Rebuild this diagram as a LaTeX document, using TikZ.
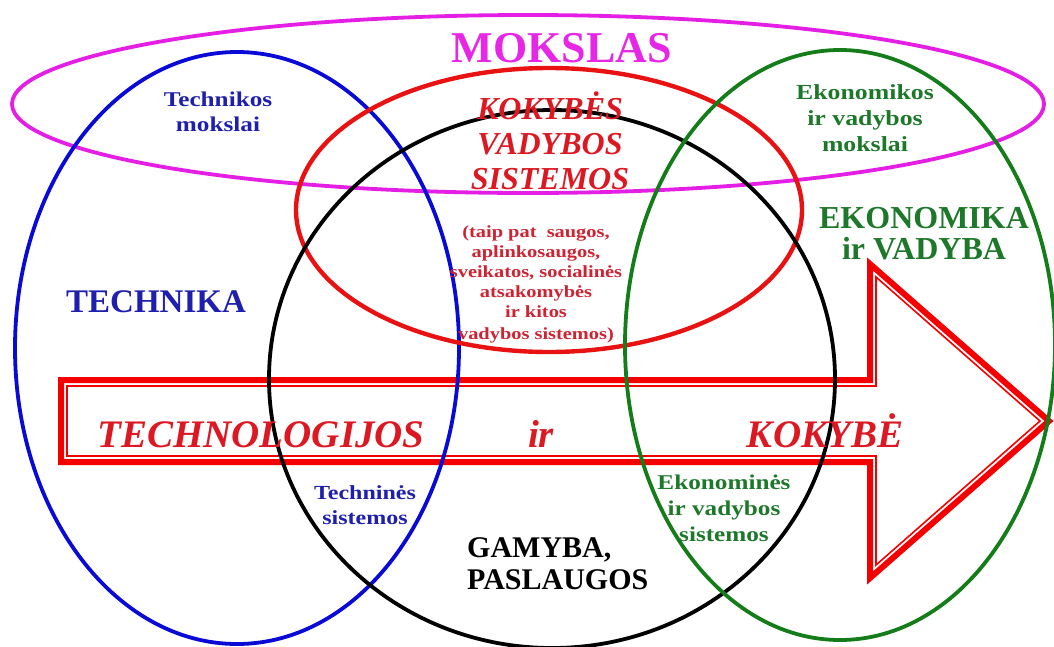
\documentclass[tikz,border=0pt]{standalone}
\usepackage{fontspec}
\setmainfont{Liberation Serif}
\newfontfamily\wideserif{Liberation Serif}[FakeStretch=1.2]

\definecolor{ringmag}{RGB}{228,30,228}
\definecolor{ringblue}{RGB}{10,10,215}
\definecolor{ringred}{RGB}{232,18,18}
\definecolor{ringgreen}{RGB}{20,125,25}
\definecolor{arrred}{RGB}{245,0,0}
\definecolor{txtmag}{RGB}{230,40,230}
\definecolor{txtblue}{RGB}{30,30,175}
\definecolor{txtgreen}{RGB}{30,120,42}
\definecolor{txtred}{RGB}{220,25,35}
\definecolor{txtsmallred}{RGB}{205,35,50}

\tikzset{
  ring/.style={draw=#1, line width=3.8pt},
  lbl/.style={inner sep=0pt, align=center},
  bigit/.style={lbl, txtred, anchor=base, font=\fontsize{39}{42}\selectfont\bfseries\itshape},
}

\begin{document}
\begin{tikzpicture}[x=1pt,y=-1pt]
\useasboundingbox (0,0) rectangle (1054,646);

%%%%%%%%%%%%%%%%%%%%%%%%%%%%%%%%%%%%%%%%%%%%%%%%%%%%%%%%%%%%%%%%%
%%%%%%%%%%%%%%%%%%%%%%%%%%%%%%
\draw [arrred, line width=6pt, miter limit=20] (61,380) -- (870,380) -- (870,264) -- (1049,421) -- (870,578) -- (870,462) -- (61,462) -- cycle;
\draw [arrred, line width=1.6pt] (67,386) -- (876,386) -- (876,277) -- (1040,421) -- (876,565) -- (876,456) -- (67,456) -- cycle;


\draw [ring=ringmag] (528,104) ellipse [x radius=516pt, y radius=89pt];
\draw [ring=ringblue] (237,348) ellipse [x radius=222pt, y radius=296pt];
\draw [ring=ringred, line width=4.4pt] (549,210) ellipse [x radius=253pt, y radius=142pt];
\draw [ring=black] (552,379) ellipse [x radius=283pt, y radius=269pt];
\draw [ring=ringgreen] (840,345) ellipse [x radius=215pt, y radius=295pt];


%%%%%%%%%%%%%%%%%%%%%%%%%%%%%%%%%%%%%%%%%%%%%%%%%%%%%%%%%%%%%%%%%
\node [lbl, txtmag, font=\fontsize{44}{48}\selectfont\bfseries] (mokslas) at (562,48) {MOKSLAS};

\node [lbl, txtred, font=\fontsize{32}{35}\selectfont\bfseries\itshape] (kvs) at (550,141) {KOKYBĖS\\VADYBOS\\SISTEMOS};
\node [lbl, txtsmallred, font=\wideserif\fontsize{17}{20}\selectfont\bfseries] (kitos) at (536,284) {(taip pat~~saugos,\\aplinkosaugos,\\sveikatos, socialinės\\atsakomybės\\ir kitos\\[2pt]vadybos sistemos)};

\node [lbl, txtblue, font=\wideserif\fontsize{21}{25}\selectfont\bfseries] (techm) at (218,112) {Technikos\\mokslai};
\node [lbl, txtgreen, font=\wideserif\fontsize{21.5}{26}\selectfont\bfseries] (ekonm) at (865,118) {Ekonomikos\\ir vadybos\\mokslai};

\node [lbl, txtblue, font=\fontsize{33}{36}\selectfont\bfseries] (technika) at (156,302) {TECHNIKA};
\node [lbl, txtgreen, font=\fontsize{32}{31}\selectfont\bfseries] (ekonomika) at (924,234) {EKONOMIKA\\ir VADYBA};


\node [bigit] (technol) at (261,447) {TECHNOLOGIJOS};
\node [bigit] (ir) at (541,447) {ir};
\node [bigit] (kokybe) at (825,447) {KOKYBĖ};


\node [lbl, txtblue, font=\wideserif\fontsize{20}{25}\selectfont\bfseries] (techs) at (365,505) {Techninės\\sistemos};
\node [lbl, txtgreen, font=\wideserif\fontsize{21}{26}\selectfont\bfseries] (ekons) at (724,508) {Ekonominės\\ir vadybos\\sistemos};

\node [lbl, align=left, anchor=west, font=\fontsize{30}{32}\selectfont\bfseries] (gamyba) at (467,564) {GAMYBA,\\PASLAUGOS};

%%%%%%%%%%%%%%%%%%%%%%%%%%%%%%%%%%%%%%%%%%%%%%%%%%%%%%%%%%%%%%%%%

\end{tikzpicture}
\end{document}
